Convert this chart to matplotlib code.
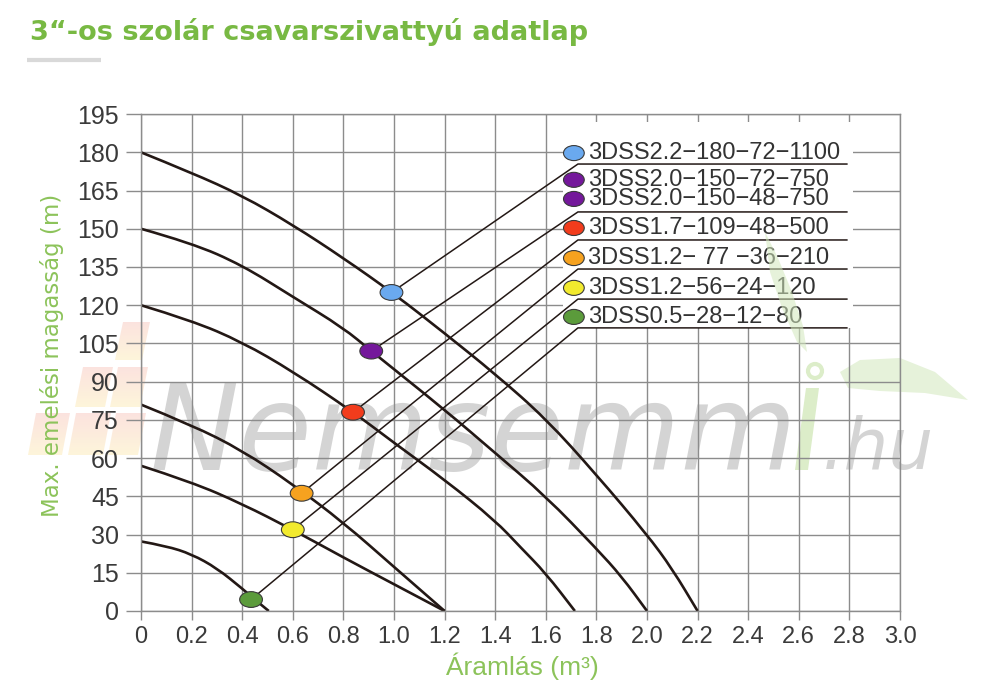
import numpy as np
import matplotlib
matplotlib.use("Agg")
import matplotlib.pyplot as plt
from matplotlib.patches import Ellipse, Rectangle, Polygon, Circle, PathPatch
from matplotlib.path import Path

# Courbes : débit (m³) / hauteur (m)
q_2200 = [0, 0.2, 0.4, 0.6, 0.8, 1.0, 1.2, 1.4, 1.6, 1.8, 2.0, 2.1, 2.2]
h_2200 = [180, 172, 163, 151.5, 138.5, 124.5, 109, 93, 75.5, 53.5, 30, 16.5, 0]
q_2000 = [0, 0.2, 0.4, 0.6, 0.8, 0.91, 1.2, 1.4, 1.6, 1.8, 1.9, 2.0]
h_2000 = [150, 144.4, 135.7, 123.3, 111.1, 102, 79, 62, 45, 24.5, 13.5, 0]
q_1700 = [0, 0.2, 0.4, 0.6, 0.84, 1.0, 1.2, 1.4, 1.5, 1.6, 1.715]
h_1700 = [120, 114, 105.5, 94, 78, 66, 51.5, 35.5, 25, 14.8, 0]
q_1200a = [0, 0.2, 0.4, 0.6, 0.8, 1.0, 1.2]
h_1200a = [81, 73, 63, 49.7, 34.7, 17.3, 0]
q_1200b = [0, 0.2, 0.4, 0.6, 0.8, 1.0, 1.2]
h_1200b = [57, 50.6, 42, 31.9, 21, 10.5, 0]
q_0500 = [0, 0.1, 0.2, 0.3, 0.4, 0.45, 0.505]
h_0500 = [27.3, 25.5, 22.3, 16.8, 8.8, 4.5, 0]

# points de fonctionnement (pastilles)
point_q = [0.99, 0.91, 0.838, 0.635, 0.60, 0.435]
point_h = [125, 102, 78, 46.2, 31.9, 4.5]
point_coul = ["#6aa9ef", "#74189b", "#f23c1c", "#f6a21f", "#f2ea2e", "#5b9b3b"]

modeles = ["3DSS2.2\u2212180\u221272\u22121100",
           "3DSS2.0\u2212150\u221272\u2212750",
           "3DSS2.0\u2212150\u221248\u2212750",
           "3DSS1.7\u2212109\u221248\u2212500",
           "3DSS1.2\u2212 77 \u221236\u2212210",
           "3DSS1.2\u221256\u221224\u2212120",
           "3DSS0.5\u221228\u221212\u221280"]
modele_coul = ["#6aa9ef", "#74189b", "#74189b", "#f23c1c", "#f6a21f", "#f2ea2e", "#5b9b3b"]

yticks = list(range(0, 196, 15))
xticks = [round(0.2 * i, 1) for i in range(16)]
xlabels = ["0"] + [f"{v:.1f}" for v in xticks[1:]]

# ── mise en page ─────────────────────────────────────────────────────────────
VERT = "#78b943"
GRIS = "#8c8c8c"
NOIR = "#231815"
ligne_h = [179.7, 169.2, 161.7, 150.3, 138.5, 126.8, 115.4]   # lignes de légende
trait_h = [175.4, 156.6, 145.6, 134.2, 122.4, 111.1]          # soulignés
trait_x0, trait_x1 = 1.727, 2.79


def courbe_lisse(q, h):
    """Chemin quadratique passant par les milieux des points lus."""
    pts = np.column_stack([q, h])
    verts = [pts[0]]
    codes = [Path.MOVETO]
    for i in range(1, len(pts) - 1):
        verts += [pts[i], (pts[i] + pts[i + 1]) / 2]
        codes += [Path.CURVE3, Path.CURVE3]
    verts.append(pts[-1])
    codes.append(Path.LINETO)
    return Path(verts, codes)


fig = plt.figure(figsize=(10, 6.94), dpi=100)

# fond : filigrane
bg = fig.add_axes([0, 0, 1, 1], zorder=0)
bg.axis("off")

grad = np.linspace(0, 1, 64)[:, None]
rose = np.array([0.97, 0.74, 0.70])
jaune = np.array([0.99, 0.91, 0.66])
img = np.zeros((64, 2, 4))
img[..., :3] = (rose * (1 - grad) + jaune * grad)[:, None, :]
img[..., 3] = 0.42
pieces = [
    [(115, 360), (142, 360), (150, 322), (123, 322)],
    [(75, 407), (105, 407), (113, 367), (83, 367)],
    [(110, 407), (140, 407), (148, 367), (118, 367)],
    [(28, 455), (62, 455), (70, 413), (36, 413)],
    [(68, 455), (103, 455), (111, 413), (76, 413)],
    [(108, 455), (138, 455), (146, 413), (116, 413)],
]
for p in pieces:
    xs = [a for a, b in p]
    ys = [b for a, b in p]
    poly = Polygon(p, closed=True, facecolor="none", edgecolor="none")
    bg.add_patch(poly)
    im = bg.imshow(img, extent=(min(xs), max(xs), max(ys), min(ys)),
                   aspect="auto", interpolation="bilinear")
    im.set_clip_path(poly)
bg.set_xlim(0, 1000)
bg.set_ylim(694, 0)

bg.text(150, 470, "Nemsemm", fontsize=86, style="italic", family="DejaVu Sans",
        color="#d4d4d4", ha="left", va="baseline")
bg.text(822, 469, ".hu", fontsize=51, style="italic", family="DejaVu Sans",
        color="#d4d4d4", ha="left", va="baseline")
bg.add_patch(Polygon([(806, 388), (819, 388), (808, 470), (795, 470)],
                     closed=True, facecolor="#dcedc9", edgecolor="none"))
bg.add_patch(Circle((815, 371), 7, facecolor="none", edgecolor="#dcedc9", lw=3))
bg.add_patch(Polygon([(840, 372), (860, 360), (900, 358), (935, 372), (968, 400),
                      (925, 393), (880, 391), (848, 388)],
                     closed=True, facecolor="#e6f2da", edgecolor="none"))

# titre
fig.text(0.030, 1 - 40.5 / 694, "3\u201c-os szolár csavarszivattyú adatlap",
         fontsize=19.5, weight="bold", family="DejaVu Sans", color=VERT,
         ha="left", va="baseline")
bg.plot([27, 101], [60, 60], color="#d9d9d9", lw=3, solid_capstyle="butt")

# graphique principal
ax = fig.add_axes([0.141, 0.1196, 0.759, 0.716], zorder=1)
ax.patch.set_alpha(0)
ax.set_xlim(0, 3.0)
ax.set_ylim(0, 195)
ax.set_xticks(xticks)
ax.set_xticklabels(xlabels)
ax.set_yticks(yticks)
ax.grid(True, color=GRIS, lw=1.0)
ax.set_axisbelow(True)
for s in ax.spines.values():
    s.set_color(GRIS)
    s.set_linewidth(1.0)
ax.tick_params(axis="y", length=11, width=1.0, color=GRIS, pad=5,
               labelsize=18, labelcolor="#3a3a3a")
ax.tick_params(axis="x", length=6.5, width=1.0, color=GRIS, pad=4,
               labelsize=17, labelcolor="#3a3a3a")
for t in ax.get_yticklabels():
    t.set_family("Liberation Sans")
for t in ax.get_xticklabels():
    t.set_family("Liberation Sans")

# cadre blanc de la légende
ax.add_patch(Rectangle((1.668, 111), 2.814 - 1.668, 192 - 111,
                       facecolor="white", edgecolor="none", zorder=1))

for q, h in [(q_2200, h_2200), (q_2000, h_2000), (q_1700, h_1700),
             (q_1200a, h_1200a), (q_1200b, h_1200b), (q_0500, h_0500)]:
    ax.add_patch(PathPatch(courbe_lisse(q, h), facecolor="none", edgecolor=NOIR,
                           lw=1.9, zorder=2))

for i in range(len(point_q)):
    ax.plot([point_q[i], trait_x0, trait_x1], [point_h[i], trait_h[i], trait_h[i]],
            color=NOIR, lw=1.1, zorder=2)
    ax.add_patch(Ellipse((point_q[i], point_h[i]), 0.09, 6.2,
                         facecolor=point_coul[i], edgecolor="#3a3a3a",
                         lw=0.8, zorder=3))

for nom, c, h in zip(modeles, modele_coul, ligne_h):
    ax.add_patch(Ellipse((1.711, h), 0.082, 5.9, facecolor=c,
                         edgecolor="#3a3a3a", lw=0.8, zorder=3))
    ax.text(1.767, h, nom, fontsize=17, family="Liberation Sans",
            color="#333333", ha="left", va="center", zorder=4)

# titres des axes
fig.text(0.052, 0.4885, "Max. emelési magasság (m)", rotation=90,
         fontsize=16.5, family="DejaVu Sans", color="#8cc35a",
         ha="center", va="center")
fig.text(0.522, 0.040, "Áramlás (m³)", fontsize=19,
         family="Liberation Sans", color="#8cc35a",
         ha="center", va="center")

# feuille devant la légende
fr = fig.add_axes([0, 0, 1, 1], zorder=3)
fr.set_xlim(0, 1000)
fr.set_ylim(694, 0)
fr.axis("off")
fr.add_patch(Polygon([(765, 232), (778, 258), (792, 292), (803, 326), (807, 352),
                      (797, 342), (782, 308), (770, 272)],
                     closed=True, facecolor="#d3e9bd", edgecolor="none", alpha=0.55))

fig.savefig("out.png", dpi=100)
